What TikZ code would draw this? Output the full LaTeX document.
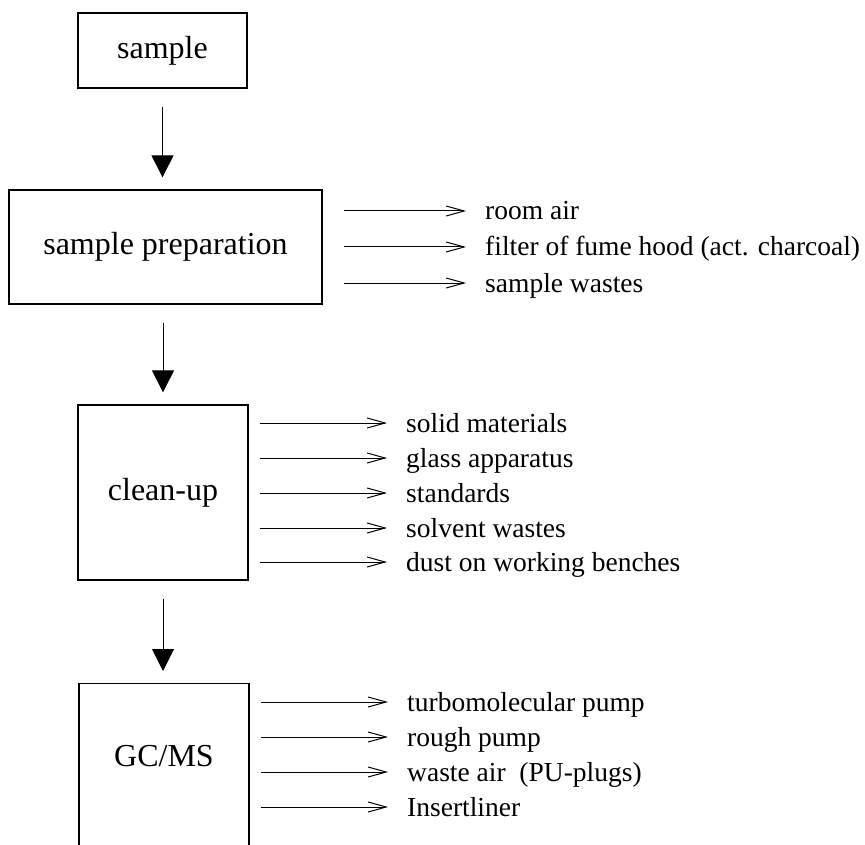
\documentclass[tikz,border=0pt]{standalone}
\usepackage{fontspec}
\setmainfont{Liberation Serif}
\usetikzlibrary{positioning,arrows.meta}
\tikzset{
  stage/.style={draw=black, line width=1.3pt, inner sep=0pt,
    font=\fontsize{32}{38}\selectfont},
  flow/.style={line width=1pt, draw=black, -{Triangle[length=22pt,width=22pt]},
    shorten <=18pt, shorten >=12pt},
  leak/.style={line width=1pt, draw=black, -{Straight Barb[length=18pt,width=10pt]},
    shorten <=#1, shorten >=19pt},
  source/.style={anchor=west, inner sep=0pt, text height=18pt, text depth=0pt,
    font=\fontsize{27.5}{32}\selectfont}
}

\begin{document}
\begin{tikzpicture}[x=1pt,y=-1pt]
  \useasboundingbox (0,0) rectangle (865,845);
  \node[stage, minimum width=169pt, minimum height=75pt] (sample) at (162.5,50.5) {sample};
  \node[stage, minimum width=313pt, minimum height=114pt] (prep) at (165.5,247) {sample preparation};
  \node[stage, minimum width=170pt, minimum height=175pt] (cleanup) at (163,492.5) {clean-up};
  \node[stage, minimum width=170pt, anchor=north, text height=83pt, text depth=140pt] (gcms) at (164,683) {GC/MS};

  \draw[flow] (sample.south) -- (sample.south |- prep.north);
  \draw[flow] (cleanup.north |- prep.south) -- (cleanup.north);
  \draw[flow] (cleanup.south) -- (cleanup.south |- gcms.north);

  % sample preparation
  \node[source] (air) at (485,211) {room air};
  \node[source] (hood) at (485,247) {filter of fume hood (act. charcoal)};
  \node[source] (swaste) at (485,283) {sample wastes};
  \draw[leak=21pt] (prep.east |- air.west) -- (air.west);
  \draw[leak=21pt] (prep.east |- hood.west) -- (hood.west);
  \draw[leak=21pt] (prep.east |- swaste.west) -- (swaste.west);

  % clean-up
  \node[source] (solid) at (406,423) {solid materials};
  \node[source] (glass) at (406,458) {glass apparatus};
  \node[source] (stand) at (406,493) {standards};
  \node[source] (solv) at (406,528) {solvent wastes};
  \node[source] (dust) at (406,562) {dust on working benches};
  \draw[leak=11pt] (cleanup.east |- solid.west) -- (solid.west);
  \draw[leak=11pt] (cleanup.east |- glass.west) -- (glass.west);
  \draw[leak=11pt] (cleanup.east |- stand.west) -- (stand.west);
  \draw[leak=11pt] (cleanup.east |- solv.west) -- (solv.west);
  \draw[leak=11pt] (cleanup.east |- dust.west) -- (dust.west);

  % GC/MS
  \node[source] (turbo) at (407,702) {turbomolecular pump};
  \node[source] (rough) at (407,737) {rough pump};
  \node[source] (wair) at (407,772) {waste air\ \ (PU-plugs)};
  \node[source] (liner) at (407,807) {Insertliner};
  \draw[leak=11pt] (gcms.east |- turbo.west) -- (turbo.west);
  \draw[leak=11pt] (gcms.east |- rough.west) -- (rough.west);
  \draw[leak=11pt] (gcms.east |- wair.west) -- (wair.west);
  \draw[leak=11pt] (gcms.east |- liner.west) -- (liner.west);
\end{tikzpicture}
\end{document}
